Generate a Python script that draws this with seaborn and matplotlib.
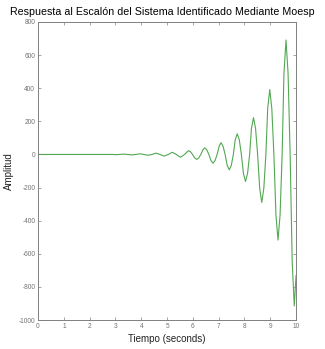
import matplotlib
matplotlib.use("Agg")
import matplotlib.pyplot as plt
import seaborn as sns
import pandas as pd

time = [0.0, 2.90, 3.00, 3.16, 3.31, 3.47, 3.63, 3.79, 3.94, 4.10, 4.26, 4.42,
        4.57, 4.73, 4.89, 5.05, 5.20, 5.36, 5.52, 5.68,
        5.83, 5.91, 5.99, 6.07, 6.15, 6.23, 6.31, 6.39, 6.46, 6.54, 6.62, 6.70,
        6.78, 6.86, 6.94, 7.02, 7.09, 7.17, 7.25, 7.33, 7.41, 7.49, 7.57, 7.64,
        7.72, 7.80, 7.88, 7.96, 8.04, 8.12, 8.20, 8.27, 8.35, 8.43, 8.51, 8.59,
        8.67, 8.75, 8.83, 8.90, 8.98, 9.06, 9.14, 9.22, 9.30, 9.38, 9.46, 9.53,
        9.61, 9.69, 9.77, 9.85, 9.93, 10.0]
amplitude = [0, 0, -1.5, 0, 2, 0, -3, 0, 4, 0, -5, 0,
             8, 0, -10, 0, 13, 0, -17, 0,
             23, 16, 0, -21, -30, -21, 0, 28, 40, 28, 0, -37,
             -53, -37, 0, 50, 71, 50, 0, -66, -93, -66, 0, 88,
             125, 88, 0, -115, -163, -115, 0, 157, 222, 157, 0, -205,
             -290, -205, 0, 277, 392, 277, 0, -366, -517, -366, 0, 489,
             691, 489, 0, -647, -915, -730]

x_ticks = [0, 1, 2, 3, 4, 5, 6, 7, 8, 9, 10]
y_ticks = [-1000, -800, -600, -400, -200, 0, 200, 400, 600, 800]

df = pd.DataFrame({"t": time, "y": amplitude})

sns.set_style("white")
plt.rcParams['font.family'] = ['Liberation Sans', 'DejaVu Sans']

fig = plt.figure(figsize=(3.25, 3.49), dpi=100)
ax = fig.add_axes([0.117, 0.083, 0.794, 0.854])
sns.lineplot(data=df, x="t", y="y", ax=ax, color="#52a852", linewidth=0.8,
             estimator=None, sort=False)

ax.set_xlim(0, 10)
ax.set_ylim(-1000, 800)
ax.set_xticks(x_ticks)
ax.set_yticks(y_ticks)
ax.set_xticklabels([str(v) for v in x_ticks])
ax.set_yticklabels([str(v) for v in y_ticks])
ax.tick_params(direction="in", length=2.5, width=0.5, colors="#808080",
               labelsize=4.7, labelcolor="#707070", top=True, right=True,
               bottom=True, left=True, pad=2)
for s in ax.spines.values():
    s.set_visible(True)
    s.set_color("#808080")
    s.set_linewidth(0.7)

ax.set_xlabel("Tiempo (seconds)", fontsize=7, color="#222222", labelpad=3)
ax.set_ylabel("Amplitud", fontsize=7, color="#222222", labelpad=3)
fig.text(0.5, 0.966, "Respuesta al Escalón del Sistema Identificado Mediante Moesp",
         ha="center", va="center", fontsize=7.7, color="black")

fig.savefig("out.png", dpi=100, facecolor="white")
